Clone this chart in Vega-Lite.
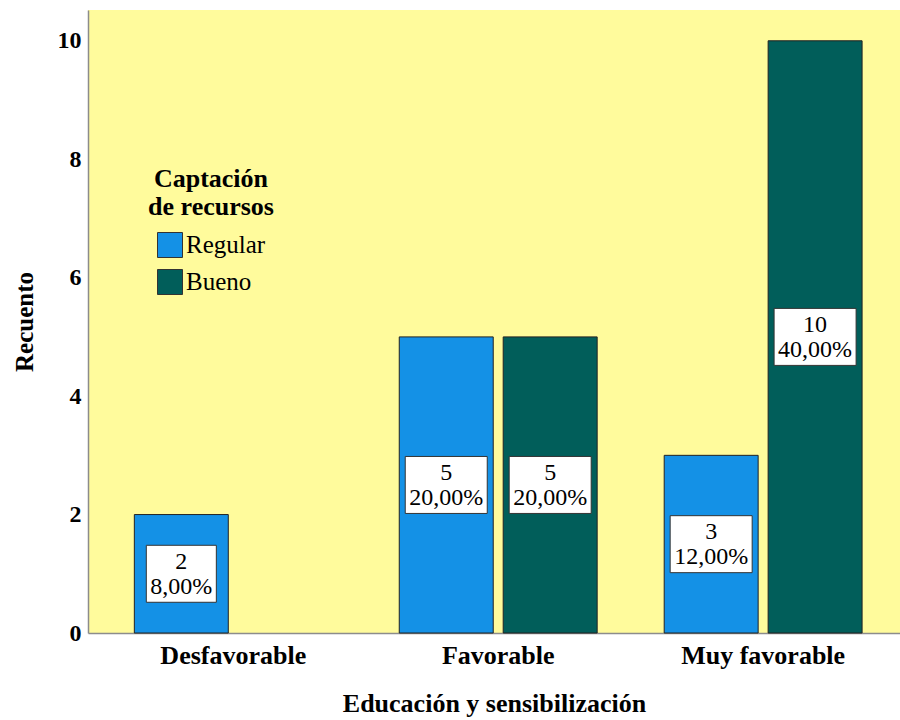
{
  "$schema": "https://vega.github.io/schema/vega-lite/v6.json",
  "autosize": "none",
  "width": 812,
  "height": 623,
  "padding": {"left": 88, "top": 10, "right": 0, "bottom": 87},
  "background": "white",
  "config": {
    "view": {"fill": "#FFFB9C", "stroke": null},
    "font": "Liberation Serif"
  },
  "data": {
    "values": [
      {"cat": "Desfavorable", "grupo": "Regular", "n": 2, "pct": "8,00%"},
      {"cat": "Favorable", "grupo": "Regular", "n": 5, "pct": "20,00%"},
      {"cat": "Favorable", "grupo": "Bueno", "n": 5, "pct": "20,00%"},
      {"cat": "Muy favorable", "grupo": "Regular", "n": 3, "pct": "12,00%"},
      {"cat": "Muy favorable", "grupo": "Bueno", "n": 10, "pct": "40,00%"}
    ]
  },
  "encoding": {
    "x": {
      "field": "cat",
      "type": "nominal",
      "sort": ["Desfavorable", "Favorable", "Muy favorable"],
      "scale": {"paddingInner": 0.253, "paddingOuter": 0.159, "align": 0.55},
      "axis": {
        "title": "Educación y sensibilización",
        "labelAngle": 0,
        "labelFont": "Liberation Serif",
        "labelFontWeight": "bold",
        "labelFontSize": 26,
        "labelColor": "black",
        "labelPadding": 9,
        "ticks": false,
        "domainColor": "#8c8c8c",
        "domainWidth": 1.5,
        "titleFont": "Liberation Serif",
        "titleFontWeight": "bold",
        "titleFontSize": 26,
        "titleColor": "black",
        "titlePadding": 22
      }
    },
    "xOffset": {
      "field": "grupo",
      "type": "nominal",
      "sort": ["Regular", "Bueno"],
      "scale": {"domain": ["Regular", "Bueno"], "paddingInner": 0.096, "paddingOuter": 0}
    }
  },
  "layer": [
    {
      "mark": {"type": "bar", "stroke": "#222222", "strokeWidth": 1},
      "encoding": {
        "y": {
          "field": "n",
          "type": "quantitative",
          "scale": {"domain": [0, 10.52], "nice": false},
          "axis": {
            "title": "Recuento",
            "values": [0, 2, 4, 6, 8, 10],
            "grid": false,
            "ticks": false,
            "labelFont": "Liberation Serif",
            "labelFontWeight": "bold",
            "labelFontSize": 24,
            "labelColor": "black",
            "labelPadding": 7,
            "domainColor": "#8c8c8c",
            "domainWidth": 1.5,
            "titleFont": "Liberation Serif",
            "titleFontWeight": "bold",
            "titleFontSize": 25,
            "titleColor": "black",
            "titlePadding": 20
          }
        },
        "color": {
          "field": "grupo",
          "type": "nominal",
          "sort": ["Regular", "Bueno"],
          "scale": {"domain": ["Regular", "Bueno"], "range": ["#1491E6", "#015E5A"]},
          "legend": {
            "title": ["Captación", "de recursos"],
            "orient": "none",
            "legendX": 60,
            "legendY": 156,
            "titleFont": "Liberation Serif",
            "titleFontWeight": "bold",
            "titleFontSize": 26,
            "titleLineHeight": 28,
            "titleColor": "black",
            "titleAlign": "center",
            "titleAnchor": "middle",
            "titlePadding": 12,
            "labelFont": "Liberation Serif",
            "labelFontSize": 25,
            "labelColor": "black",
            "labelOffset": 3,
            "symbolType": "square",
            "symbolSize": 625,
            "symbolStrokeColor": "#333333",
            "symbolStrokeWidth": 1,
            "symbolOpacity": 1,
            "rowPadding": 7,
            "padding": 0
          }
        }
      }
    },
    {
      "mark": {"type": "point", "filled": true, "fill": "white", "stroke": "#333333", "strokeWidth": 1, "opacity": 1, "size": 6724},
      "encoding": {
        "y": {"field": "n", "type": "quantitative", "scale": {"domain": [0, 21.04], "nice": false}, "axis": null},
        "shape": {
          "condition": {"test": "datum.n == 2", "value": "M-0.854,-0.695L0.854,-0.695L0.854,0.695L-0.854,0.695Z"},
          "value": "M-1,-0.695L1,-0.695L1,0.695L-1,0.695Z"
        }
      }
    },
    {
      "mark": {"type": "text", "font": "Liberation Serif", "fontSize": 24, "color": "black", "baseline": "middle", "dy": -12},
      "encoding": {
        "y": {"field": "n", "type": "quantitative", "scale": {"domain": [0, 21.04], "nice": false}, "axis": null},
        "text": {"field": "n", "type": "quantitative"}
      }
    },
    {
      "mark": {"type": "text", "font": "Liberation Serif", "fontSize": 24, "color": "black", "baseline": "middle", "dy": 13},
      "encoding": {
        "y": {"field": "n", "type": "quantitative", "scale": {"domain": [0, 21.04], "nice": false}, "axis": null},
        "text": {"field": "pct", "type": "nominal"}
      }
    }
  ],
  "resolve": {"scale": {"y": "independent"}}
}
